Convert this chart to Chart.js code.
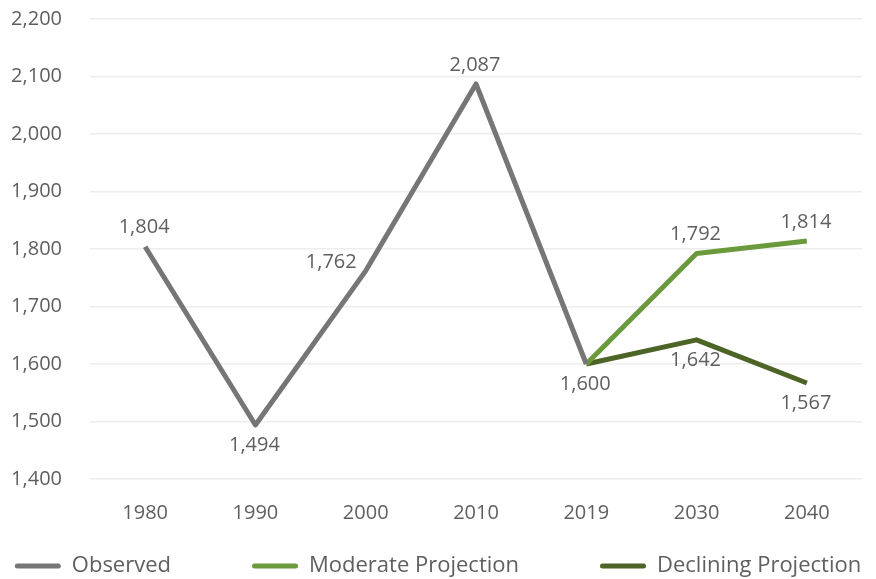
<!DOCTYPE html>
<html>
<head>
<meta charset="utf-8">
<script src="https://cdn.jsdelivr.net/npm/chart.js@4"></script>
<style>
	html, body { margin: 0; padding: 0; background: #fff; }
	#wrap { width: 876px; height: 579px; }
</style>
</head>
<body>
<div id="wrap"><canvas id="chart" width="876" height="579"></canvas></div>
<script>
// Values
const years = [ '1980', '1990', '2000', '2010', '2019', '2030', '2040' ];
const observed = [ 1804, 1494, 1762, 2087, 1600, null, null ];
const moderate = [ null, null, null, null, 1600, 1792, 1814 ];
const declining = [ null, null, null, null, 1600, 1642, 1567 ];
const yTicks = [ 1400, 1500, 1600, 1700, 1800, 1900, 2000, 2100, 2200 ];

// where each value label sits relative to its point
const observedLabelPos = [ 'top', 'bottom', 'left', 'top', 'bottom', null, null ];
const moderateLabelPos = [ null, null, null, null, null, 'top', 'top' ];
const decliningLabelPos = [ null, null, null, null, null, 'bottom', 'bottom' ];

const FONT = '"Open Sans", "Noto Sans", sans-serif';
const TEXT = '#5F5F5F';

const fmt = ( v ) => v.toLocaleString( 'en-US' );

const valueLabels = {
	id: 'valueLabels',
	afterDatasetsDraw( chart ) {
		const ctx = chart.ctx;
		ctx.save();
		ctx.font = '20px ' + FONT;
		ctx.fillStyle = TEXT;
		chart.data.datasets.forEach( ( ds, i ) => {
			const meta = chart.getDatasetMeta( i );
			meta.data.forEach( ( pt, j ) => {
				const pos = ds.labelPos[ j ];
				const v = ds.data[ j ];
				if ( ! pos || v === null ) {
					return;
				}
				let x = pt.x;
				let y = pt.y;
				ctx.textAlign = 'center';
				ctx.textBaseline = 'middle';
				if ( pos === 'top' ) {
					y -= 19;
				} else if ( pos === 'bottom' ) {
					y += 20;
				} else if ( pos === 'left' ) {
					x -= 8;
					y -= 9;
					ctx.textAlign = 'right';
				}
				ctx.fillText( fmt( v ), x - 1, y );
			} );
		} );
		ctx.restore();
	},
};

// bottom legend, spread out like the original
const spreadLegend = {
	id: 'spreadLegend',
	afterDraw( chart ) {
		const ctx = chart.ctx;
		const boxW = 46;
		const gap = 11;
		const between = 81;
		const y = 566;
		ctx.save();
		ctx.font = '22px ' + FONT;
		ctx.textBaseline = 'middle';
		ctx.textAlign = 'left';
		const items = chart.data.datasets.map( ( ds ) => ( {
			text: ds.label,
			color: ds.borderColor,
			w: boxW + gap + ctx.measureText( ds.label ).width,
		} ) );
		const total = items.reduce( ( s, it ) => s + it.w, 0 ) + between * ( items.length - 1 );
		let x = ( chart.width - total ) / 2;
		items.forEach( ( it ) => {
			ctx.strokeStyle = it.color;
			ctx.lineWidth = 5;
			ctx.lineCap = 'round';
			ctx.beginPath();
			ctx.moveTo( x + 2.5, y );
			ctx.lineTo( x + boxW - 2.5, y );
			ctx.stroke();
			ctx.fillStyle = TEXT;
			ctx.fillText( it.text, x + boxW + gap, y );
			x += it.w + between;
		} );
		ctx.restore();
	},
};

const lineDs = ( label, data, color, labelPos ) => ( {
	label,
	data,
	labelPos,
	borderColor: color,
	backgroundColor: color,
	borderWidth: 5,
	pointRadius: 0,
	pointHoverRadius: 0,
	tension: 0,
	spanGaps: false,
	borderJoinStyle: 'round',
} );

new Chart( document.getElementById( 'chart' ), {
	type: 'line',
	data: {
		labels: years,
		datasets: [
			lineDs( 'Observed', observed, '#767676', observedLabelPos ),
			lineDs( 'Moderate Projection', moderate, '#6B9A3C', moderateLabelPos ),
			lineDs( 'Declining Projection', declining, '#4D6427', decliningLabelPos ),
		],
	},
	options: {
		responsive: false,
		animation: false,
		layout: { padding: { top: 0, right: 14, left: 0, bottom: 32 } },
		plugins: {
			tooltip: { enabled: false },
			legend: { display: false },
		},
		scales: {
			x: {
				offset: true,
				grid: { display: false, drawTicks: false },
				border: { display: false },
				ticks: {
					font: { family: FONT, size: 20 },
					color: TEXT,
					padding: 22,
					maxRotation: 0,
				},
			},
			y: {
				min: yTicks[ 0 ],
				max: yTicks[ yTicks.length - 1 ],
				afterBuildTicks( axis ) {
					axis.ticks = yTicks.map( ( v ) => ( { value: v } ) );
				},
				afterFit( axis ) {
					axis.width = 90;
					axis.paddingTop = 19;
					axis.paddingBottom = 10;
				},
				grid: { color: '#EDEDED', lineWidth: 1.5, drawTicks: false },
				border: { display: false },
				ticks: {
					font: { family: FONT, size: 20 },
					color: TEXT,
					padding: 28,
					callback: ( v ) => fmt( v ),
				},
			},
		},
	},
	plugins: [ valueLabels, spreadLegend ],
} );
</script>
</body>
</html>
